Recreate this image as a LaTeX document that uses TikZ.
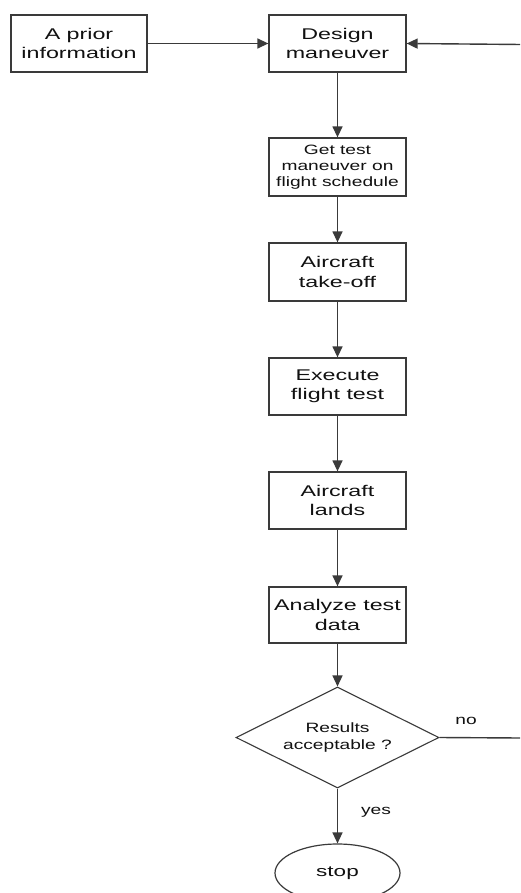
\documentclass[tikz,border=0pt]{standalone}
\usepackage{fontspec}
\usetikzlibrary{arrows.meta,shapes.geometric}
\newfontfamily\wfont{Liberation Sans}[FakeStretch=1.5]
\newfontfamily\nfont{Liberation Sans}[FakeStretch=1.42]
\definecolor{linec}{HTML}{3A3A3A}
\definecolor{textc}{HTML}{111111}
\tikzset{
  box/.style={draw=linec, line width=1.3pt, rectangle, minimum width=137pt, minimum height=57pt,
    inner sep=0pt, align=center, text=textc, font=\wfont\fontsize{15.5}{19.5}\selectfont},
  smallbox/.style={box, font=\nfont\fontsize{13.5}{16}\selectfont},
  decision/.style={draw=linec, line width=1.1pt, diamond, aspect=2, minimum width=203pt, minimum height=101pt,
    inner sep=0pt, align=center, text=textc, font=\nfont\fontsize{13.5}{17}\selectfont},
  terminal/.style={draw=linec, line width=1.2pt, ellipse, minimum width=125pt, minimum height=58pt,
    inner sep=0pt, align=center, text=textc, font=\wfont\fontsize{15}{17}\selectfont},
  lbl/.style={text=textc, inner sep=0pt, font=\nfont\fontsize{13.5}{15}\selectfont},
  conn/.style={draw=linec, line width=1.4pt, -{Triangle[length=11pt,width=10pt]}},
  plain/.style={draw=linec, line width=1.4pt},
}
\begin{document}
\begin{tikzpicture}[x=1pt,y=-1pt]
\useasboundingbox (0,0) rectangle (520,893);
\fill[white] (0,0) rectangle (520,893);
\clip (0,0) rectangle (520,893);
\node[box, minimum width=136pt] (prior) at (79,43.5) {A prior\\information};
\node[box] (design) at (337.5,43.5) {Design\\maneuver};
\node[smallbox, minimum height=58pt] (gettest) at (337.5,167) {Get test\\maneuver on\\flight schedule};
\node[box, minimum height=58pt] (takeoff) at (337.5,272) {Aircraft\\take-off};
\node[box] (execute) at (337.5,386.5) {Execute\\flight test};
\node[box] (lands) at (337.5,500.5) {Aircraft\\lands};
\node[box, minimum height=56pt] (analyze) at (337.5,615) {Analyze test\\data};
\node[decision] (dec) at (337.5,737.5) {Results\\acceptable ?};
\node[terminal] (stop) at (337.5,873) {stop};
\node[lbl] (no) at (466,721) {no};
\node[lbl] (yes) at (376,812) {yes};
\coordinate (noend) at (521,738);
\coordinate (retstart) at (521,44.5);
\draw[conn] (prior) -- (design);
\draw[conn] (design) -- (gettest);
\draw[conn] (gettest) -- (takeoff);
\draw[conn] (takeoff) -- (execute);
\draw[conn] (execute) -- (lands);
\draw[conn] (lands) -- (analyze);
\draw[conn] (analyze) -- (dec);
\draw[conn] (dec) -- (stop);
\draw[plain] (dec.east) -- (noend);
\draw[conn] (retstart) -- (design.east);
\end{tikzpicture}
\end{document}
